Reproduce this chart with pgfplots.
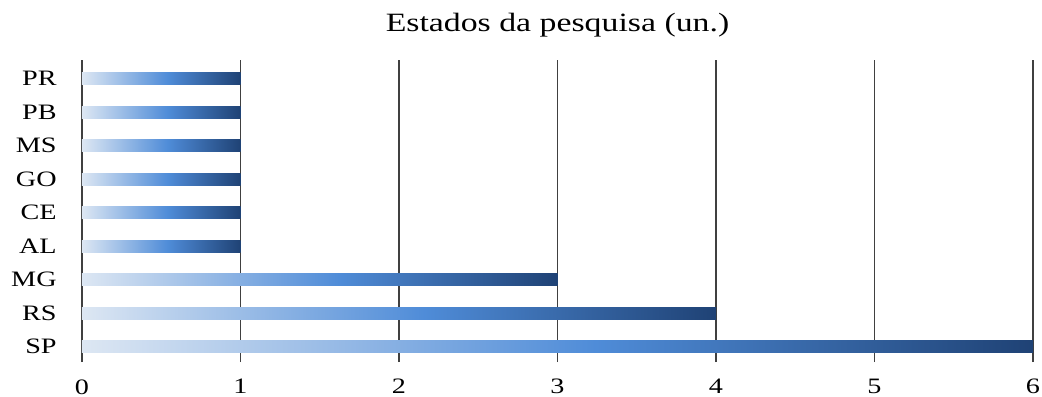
\documentclass[border=0pt]{standalone}
\usepackage{pgfplots}
\pgfplotsset{compat=1.18}
\usepackage{fontspec}
\setmainfont[FakeStretch=1.28]{Liberation Serif}
\definecolor{barL}{HTML}{DDE7F3}
\definecolor{barM}{HTML}{4F8CD8}
\definecolor{barR}{HTML}{1F4275}
\pgfdeclarehorizontalshading{barshade}{100bp}{color(0bp)=(barL); color(25bp)=(barL); color(52bp)=(barM); color(75bp)=(barR); color(100bp)=(barR)}
\tikzset{bb/.style={draw=none, shade, shading=barshade, bar shift=0pt}}
\begin{document}
\begin{tikzpicture}
\begin{axis}[
  scale only axis,
  width=475.5pt, height=151pt,
  xbar, bar width=6.1pt,
  xmin=0, xmax=6, ymin=-0.46, ymax=8.56,
  xtick={0,1,2,3,4,5,6},
  ytick={0,1,2,3,4,5,6,7,8},
  yticklabels={SP,RS,MG,AL,CE,GO,MS,PB,PR},
  xmajorgrids, grid style={draw=black!75, line width=0.7pt},
  axis line style={draw=none},
  major tick length=0pt,
  tick label style={font=\fontsize{11}{13}\selectfont, inner sep=0pt},
  /pgf/number format/assume math mode=true,
  xticklabel style={anchor=north, yshift=-8.5pt},
  yticklabel style={anchor=east, xshift=-12.5pt},
  title={Estados da pesquisa (un.)},
  title style={font=\fontsize{13.2}{15}\selectfont, inner sep=0pt, at={(0.5,1)}, anchor=base, yshift=8.5pt},
]
\addplot[bb] coordinates {(6,0)};
\addplot[bb] coordinates {(4,1)};
\addplot[bb] coordinates {(3,2)};
\addplot[bb] coordinates {(1,3)};
\addplot[bb] coordinates {(1,4)};
\addplot[bb] coordinates {(1,5)};
\addplot[bb] coordinates {(1,6)};
\addplot[bb] coordinates {(1,7)};
\addplot[bb] coordinates {(1,8)};
\end{axis}
\pgfresetboundingbox
\path ([xshift=-41pt,yshift=-17pt]current axis.south west) rectangle ([xshift=4.5pt,yshift=30pt]current axis.north east);
\end{tikzpicture}
\end{document}
